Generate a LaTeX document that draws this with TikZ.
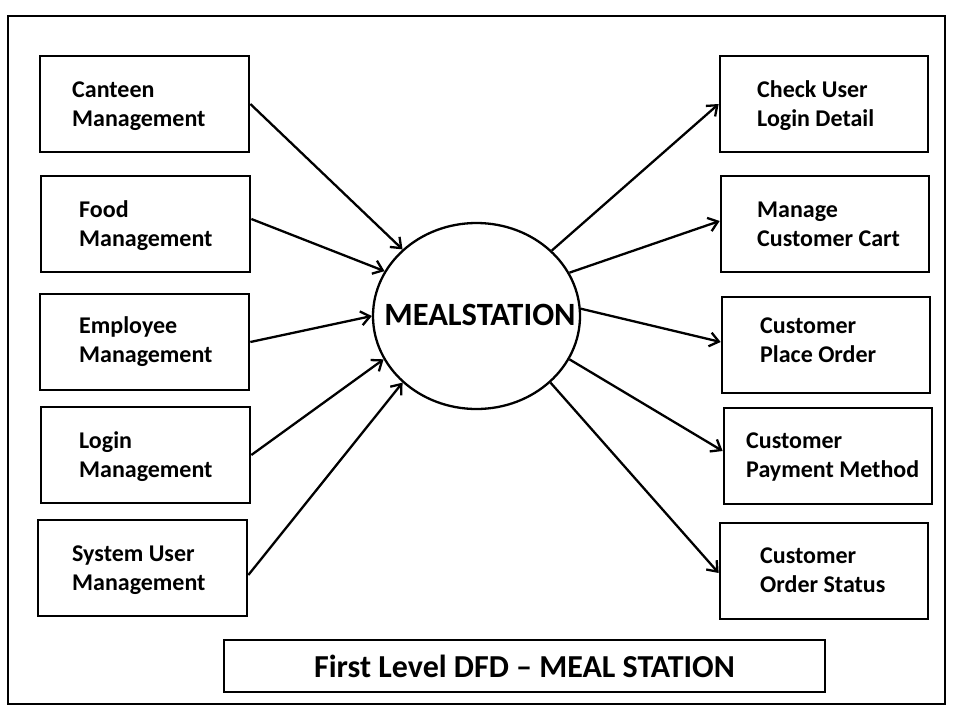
\documentclass[tikz,border=0pt]{standalone}
\usepackage{fontspec}
\setmainfont{Carlito}
\usetikzlibrary{arrows.meta,shapes.geometric}
\newcommand{\twolines}[2]{\begin{tabular}[t]{@{}l@{}}#1\\#2\end{tabular}}
\begin{document}
\begin{tikzpicture}[x=1pt,y=-1pt,
  frame/.style={draw,line width=2.7pt},
  box/.style={draw,line width=2.7pt,minimum width=209pt,minimum height=96pt,inner sep=0pt},
  lbl/.style={anchor=base west,inner sep=0pt,font=\fontsize{24}{29}\selectfont\bfseries},
  proc/.style={draw,ellipse,line width=2.3pt,minimum width=207pt,minimum height=186pt,inner sep=0pt},
  flow/.style={line width=2.3pt,-{Straight Barb[length=9pt,width=14pt]}},
  titlebox/.style={draw,line width=2.7pt,minimum width=601pt,minimum height=52pt,inner sep=0pt}
]
\useasboundingbox (0,0) rectangle (960,720);
\node[frame,minimum width=937pt,minimum height=688pt,inner sep=0pt] (outer) at (476.5,360) {};

% left boxes
\node[box] (can) at (144.5,104) {};
\node[box] (food) at (145.5,224) {};
\node[box] (emp) at (144.5,342) {};
\node[box] (log) at (145.5,455) {};
\node[box] (sys) at (142.5,568) {};
\node[lbl] (canT) at (72,97) {\twolines{Canteen}{Management}};
\node[lbl] (foodT) at (79,217) {\twolines{Food}{Management}};
\node[lbl] (empT) at (79,333) {\twolines{Employee}{Management}};
\node[lbl] (logT) at (79,448) {\twolines{Login}{Management}};
\node[lbl] (sysT) at (72,561) {\twolines{System User}{Management}};

% right boxes
\node[box,minimum width=208pt] (chk) at (824,104) {};
\node[box,minimum width=208pt] (cart) at (825,224) {};
\node[box,minimum width=208pt] (place) at (826,345) {};
\node[box,minimum width=208pt] (pay) at (828,456) {};
\node[box,minimum width=208pt] (stat) at (824,571) {};
\node[lbl] (chkT) at (757,97) {\twolines{Check User}{Login Detail}};
\node[lbl] (cartT) at (757,217) {\twolines{Manage}{Customer Cart}};
\node[lbl] (placeT) at (760,333) {\twolines{Customer}{Place Order}};
\node[lbl] (payT) at (746,448) {\twolines{Customer}{Payment Method}};
\node[lbl] (statT) at (760,563) {\twolines{Customer}{Order Status}};

% central process
\node[proc] (ms) at (476.5,316) {};
\node[anchor=base,inner sep=0pt,font=\fontsize{32.5}{38}\selectfont\bfseries] (msT) at (480,325) {MEALSTATION};

% title
\node[titlebox] (tbox) at (524.5,666) {};
\node[anchor=base,inner sep=0pt,font=\fontsize{32}{38}\selectfont\bfseries] (title) at (524.5,677) {First Level DFD – MEAL STATION};

% inputs
\draw[flow] (can.east) -- (ms.138);
\draw[flow] ([yshift=5pt]food.east) -- (ms.154);
\draw[flow] (emp.east) -- (ms.180.5);
\draw[flow] (log.east) -- (ms.205);
\draw[flow] ([yshift=-7pt]sys.east) -- (ms.222.5);

% outputs
\draw[flow] (ms.41.5) -- (chk.west);
\draw[flow] (ms.25.2) -- ([yshift=3pt]cart.west);
\draw[flow] (ms.4.8) -- ([yshift=3pt]place.west);
\draw[flow] (ms.-25.4) -- ([yshift=5pt]pay.west);
\draw[flow] (ms.-42) -- ([yshift=-2pt]stat.west);
\end{tikzpicture}
\end{document}
